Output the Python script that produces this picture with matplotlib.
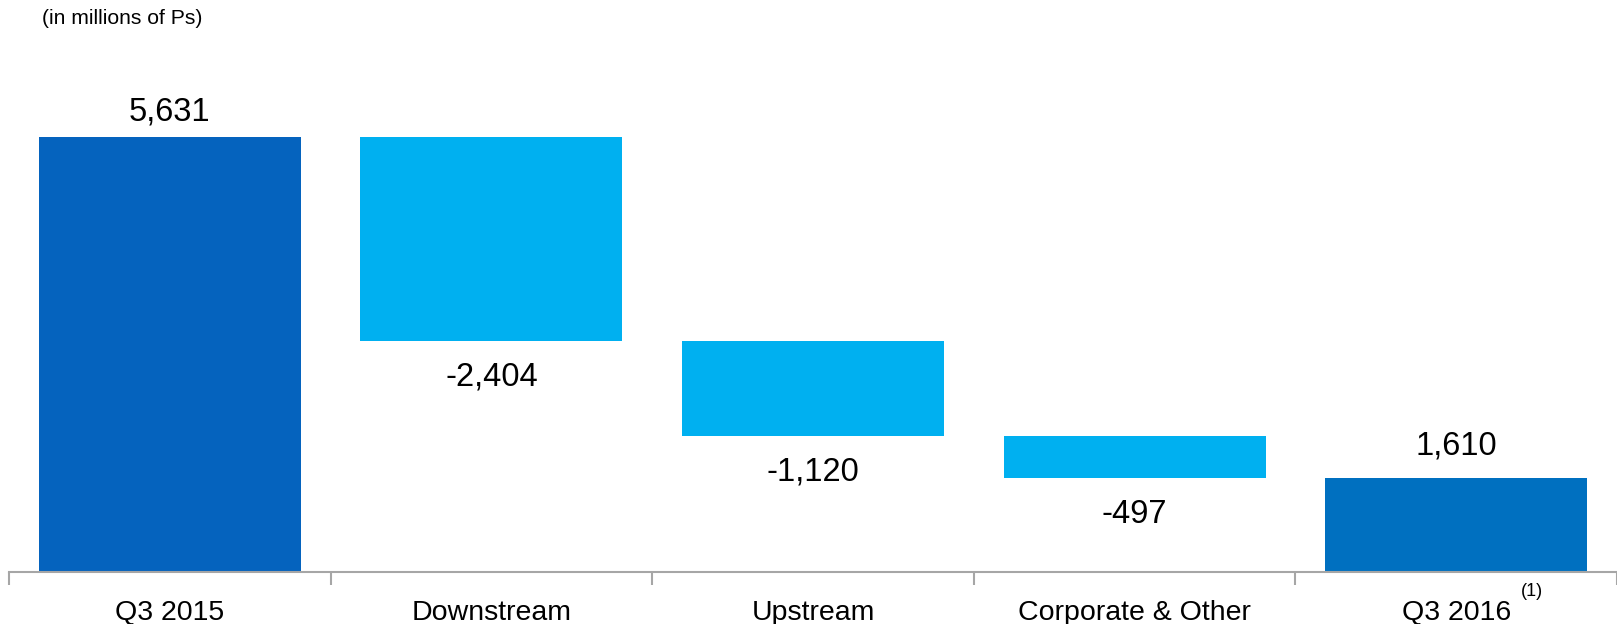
import matplotlib

matplotlib.use("Agg")
import matplotlib.pyplot as plt
from matplotlib.ticker import FixedLocator

plt.rcParams["font.family"] = ["Liberation Sans", "DejaVu Sans"]

# bridge of EBITDA-style figures, millions of pesos
categories = ["Q3 2015", "Downstream", "Upstream", "Corporate & Other", "Q3 2016"]
start_value = 5631
changes = [-2404, -1120, -497]
end_value = 1610
labels = ["5,631", "-2,404", "-1,120", "-497", "1,610"]

DARK = "#0563BE"
DARK_END = "#0070C0"
LIGHT = "#00B0F0"
AXIS_GRAY = "#A6A6A6"

fig = plt.figure(figsize=(16.17, 6.24), dpi=100)
ax = fig.add_axes([9 / 1617, 52 / 624, 1608 / 1617, 572 / 624])

width = 0.815
ax.bar(0, start_value, width=width, color=DARK)

running = start_value
bottoms = []
for i, delta in enumerate(changes, start=1):
    low = running + delta
    ax.bar(i, -delta, bottom=low, width=width, color=LIGHT)
    bottoms.append(low)
    running = low

ax.bar(4, end_value, width=width, color=DARK_END)

# value labels: above the totals, below the decreases
ax.annotate(labels[0], (0, start_value), xytext=(0, 7), textcoords="offset points",
            ha="center", va="bottom", fontsize=23.5)
for i, low in enumerate(bottoms, start=1):
    ax.annotate(labels[i], (i, low), xytext=(0, -15), textcoords="offset points",
                ha="center", va="top", fontsize=23.5)
ax.annotate(labels[4], (4, end_value), xytext=(0, 12), textcoords="offset points",
            ha="center", va="bottom", fontsize=23.5)

ax.set_xlim(-0.5, 4.5)
ax.set_ylim(500, 7245)

ax.set_xticks(range(len(categories)))
ax.set_xticklabels(categories, fontsize=20.5)
ax.tick_params(axis="x", which="major", length=0, pad=20)
ax.xaxis.set_minor_locator(FixedLocator([-0.5, 0.5, 1.5, 2.5, 3.5, 4.5]))
ax.tick_params(axis="x", which="minor", length=9, width=1.5, color=AXIS_GRAY)
ax.set_yticks([])

for side in ["top", "right", "left"]:
    ax.spines[side].set_visible(False)
ax.spines["bottom"].set_color(AXIS_GRAY)
ax.spines["bottom"].set_linewidth(1.5)

fig.text(42 / 1617, 1 - 18 / 624, "(in millions of Ps)", fontsize=15.2,
         ha="left", va="center")
fig.text(1532 / 1617, 1 - 591 / 624, "(1)", fontsize=13, ha="center", va="center")

fig.savefig("out.png", dpi=100)
